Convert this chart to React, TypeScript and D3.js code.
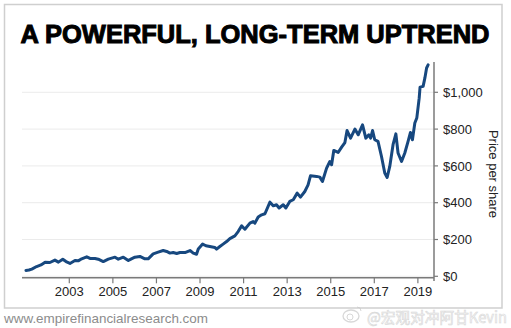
import React from "react";
import * as d3 from "d3";

const years: number[] = [
  2001.01, 2001.15, 2001.28, 2001.5, 2001.7, 2001.89, 2002.11, 2002.34, 2002.5, 2002.7, 2002.85,
  2003.03, 2003.26, 2003.41, 2003.57, 2003.8, 2003.95, 2004.18, 2004.33, 2004.56, 2004.79,
  2005.1, 2005.25, 2005.48, 2005.71, 2005.85, 2006.01, 2006.24, 2006.47, 2006.62, 2006.85,
  2007.08, 2007.31, 2007.47, 2007.62, 2007.77, 2007.93, 2008.08, 2008.31, 2008.54, 2008.69,
  2008.84, 2008.92, 2009.12, 2009.27, 2009.45, 2009.68, 2009.76, 2009.91, 2010.06, 2010.22,
  2010.37, 2010.6, 2010.75, 2010.91, 2011.06, 2011.29, 2011.44, 2011.52, 2011.67, 2011.83,
  2011.98, 2012.21, 2012.36, 2012.51, 2012.63, 2012.82, 2012.94, 2013.12, 2013.28, 2013.46,
  2013.61, 2013.81, 2013.96, 2014.07, 2014.35, 2014.5, 2014.62, 2014.81, 2014.96, 2015.04,
  2015.14, 2015.34, 2015.5, 2015.65, 2015.75, 2015.91, 2016.11, 2016.26, 2016.46, 2016.61,
  2016.75, 2016.83, 2016.92, 2017.02, 2017.17, 2017.33, 2017.48, 2017.59, 2017.71, 2017.86,
  2017.99, 2018.09, 2018.25, 2018.4, 2018.55, 2018.66, 2018.75, 2018.86, 2018.95, 2019.06,
  2019.1, 2019.24, 2019.32, 2019.4, 2019.47,
];

const prices: number[] = [
  32, 34, 39, 53, 62, 77, 75, 88, 77, 93, 80,
  70, 86, 84, 95, 106, 97, 97, 93, 80, 93,
  104, 93, 104, 86, 95, 104, 108, 95, 95, 122,
  131, 140, 135, 126, 129, 124, 129, 129, 140, 126,
  120, 148, 175, 166, 162, 157, 148, 162, 175, 189,
  205, 220, 243, 274, 256, 289, 298, 289, 322, 334,
  340, 403, 383, 389, 371, 389, 371, 407, 416, 452,
  430, 461, 497, 546, 543, 539, 515, 588, 624, 606,
  684, 673, 702, 727, 792, 751, 800, 769, 823, 751,
  769, 751, 792, 742, 733, 651, 561, 537, 597, 715,
  774, 670, 624, 670, 733, 782, 742, 833, 860, 968,
  1028, 1032, 1077, 1132, 1149,
];

const xTicks: number[] = [2003, 2005, 2007, 2009, 2011, 2013, 2015, 2017, 2019];
const yTicks: number[] = [0, 200, 400, 600, 800, 1000];

const title = "A POWERFUL, LONG-TERM UPTREND";
const yTitle = "Price per share";
const source = "www.empirefinancialresearch.com";
const watermark = "@宏观对冲阿甘Kevin";

export default function App() {
  const W = 511;
  const H = 328;
  const x = d3.scaleLinear().domain([2000.875, 2019.74]).range([23, 434]);
  const y = d3.scaleLinear().domain([0, 1000]).range([276.3, 92.3]);
  const axisY = 277.8;
  const axisX = 434;

  const data = years.map((yr, i) => ({ yr, v: prices[i] }));
  const line = d3
    .line<{ yr: number; v: number }>()
    .x((d) => x(d.yr))
    .y((d) => y(d.v))
    .curve(d3.curveLinear);

  const fmt = (v: number) => "$" + d3.format(",")(v);
  const font = "'Liberation Sans', Arial, sans-serif";

  return (
    <svg
      width={W}
      height={H}
      style={{ position: "absolute", left: 0, top: 0, background: "#fff" }}
    >
      <rect x={0} y={0} width={W} height={H} fill="#fff" />
      <rect x={4.5} y={4.5} width={497.5} height={303.5} fill="#fff" stroke="#cfcfcf" strokeWidth={1.5} />

      <text
        x={20.5}
        y={42.5}
        fontFamily={font}
        fontWeight={900}
        fontSize={25.5}
        textLength={469}
        lengthAdjust="spacingAndGlyphs"
        fill="#000"
        stroke="#000"
        strokeWidth={1}
      >
        {title}
      </text>

      {/* gridlines */}
      {yTicks.map((t) => (
        <line key={"g" + t} x1={22} x2={axisX} y1={y(t)} y2={y(t)} stroke="#ebebeb" strokeWidth={1} />
      ))}

      {/* x axis */}
      <line x1={22} x2={axisX} y1={axisY} y2={axisY} stroke="#7a7a7a" strokeWidth={1.5} />
      {xTicks.map((t) => (
        <g key={"x" + t}>
          <line x1={x(t)} x2={x(t)} y1={axisY} y2={axisY + 5.5} stroke="#7a7a7a" strokeWidth={1.2} />
          <text x={x(t)} y={296} textAnchor="middle" fontFamily={font} fontSize={13} fill="#222">
            {String(t)}
          </text>
        </g>
      ))}

      {/* y axis */}
      <line x1={axisX} x2={axisX} y1={62} y2={281} stroke="#7a7a7a" strokeWidth={1.5} />
      {yTicks.map((t) => (
        <g key={"y" + t}>
          <line x1={axisX} x2={axisX + 4} y1={y(t)} y2={y(t)} stroke="#7a7a7a" strokeWidth={1.2} />
          <text x={443} y={y(t) + 4.6} fontFamily={font} fontSize={13} fill="#222">
            {fmt(t)}
          </text>
        </g>
      ))}
      <text
        transform="translate(489,174) rotate(90)"
        textAnchor="middle"
        fontFamily={font}
        fontSize={13}
        fill="#222"
      >
        {yTitle}
      </text>

      <path
        d={line(data) || ""}
        fill="none"
        stroke="#17487f"
        strokeWidth={3}
        strokeLinejoin="round"
        strokeLinecap="round"
      />

      <text x={4} y={323} fontFamily={font} fontSize={13.5} fill="#8c8c8c" textLength={204} lengthAdjust="spacingAndGlyphs">
        {source}
      </text>

      <g opacity={0.7}>
        <ellipse cx={351} cy={316} rx={8} ry={6} fill="none" stroke="#c8c8c8" strokeWidth={1.3} />
        <circle cx={350} cy={317} r={3} fill="none" stroke="#c8c8c8" strokeWidth={1} />
        <path d="M357,307 a4,4 0 0 1 4,4" fill="none" stroke="#c8c8c8" strokeWidth={1} />
        <text
          x={367}
          y={323}
          fontFamily="'Noto Sans CJK SC', sans-serif"
          fontSize={15}
          fill="#f7f7f7"
          stroke="#c8c8c8"
          strokeWidth={0.6}
          textLength={140}
          lengthAdjust="spacingAndGlyphs"
        >
          {watermark}
        </text>
      </g>
    </svg>
  );
}
